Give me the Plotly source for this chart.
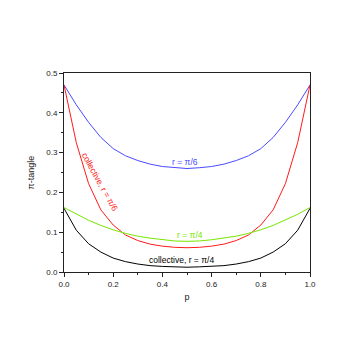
import plotly.graph_objects as go

p = [i / 20 for i in range(21)]

half_blue = [0.470, 0.420, 0.376, 0.338, 0.310, 0.292, 0.280, 0.271, 0.265, 0.262, 0.260]
half_red = [0.470, 0.325, 0.222, 0.156, 0.118, 0.093, 0.079, 0.070, 0.065, 0.062, 0.061]
half_green = [0.162, 0.145, 0.130, 0.117, 0.106, 0.097, 0.090, 0.085, 0.081, 0.078, 0.077]
half_black = [0.160, 0.105, 0.071, 0.050, 0.035, 0.026, 0.020, 0.016, 0.014, 0.013, 0.012]


def mirror(half):
    return half + half[-2::-1]


blue = mirror(half_blue)
red = mirror(half_red)
green = mirror(half_green)
black = mirror(half_black)

FONT = "Liberation Sans, Arial, sans-serif"

fig = go.Figure()
for ys, col in [(blue, "#4a4aff"), (red, "#ff1a1a"), (green, "#77e600"), (black, "#000000")]:
    fig.add_trace(go.Scatter(x=p, y=ys, mode="lines", line=dict(color=col, width=1),
                             showlegend=False, hoverinfo="skip"))

labels = [
    (0.493, 0.277, "r = π/6", "#4a4aff", 0),
    (0.146, 0.226, "collective, r = π/6", "#ff1a1a", 61),
    (0.513, 0.093, "r = π/4", "#77e600", 0),
    (0.479, 0.030, "collective, r = π/4", "#000000", 0),
]
for x, y, txt, col, ang in labels:
    fig.add_annotation(x=x, y=y, text=txt, showarrow=False, textangle=ang,
                       font=dict(family=FONT, size=8.5, color=col))

axis_common = dict(
    showline=True, linecolor="#222", linewidth=1, mirror=True,
    ticks="outside", ticklen=4, tickcolor="#222", tickwidth=1,
    showgrid=False, zeroline=False,
    tickfont=dict(family=FONT, size=8, color="#222"),
    title_font=dict(family=FONT, size=9, color="#222"),
)
fig.update_xaxes(range=[0, 1], dtick=0.2, tickformat=".1f", title_text="p",
                 title_standoff=6,
                 minor=dict(dtick=0.1, ticks="outside", ticklen=2, tickcolor="#222"),
                 **axis_common)
fig.update_yaxes(range=[0, 0.5], dtick=0.1, tickformat=".1f", title_text="π-tangle",
                 title_standoff=10,
                 minor=dict(dtick=0.05, ticks="outside", ticklen=2, tickcolor="#222"),
                 **axis_common)

# the page adds an 8px body margin, so the plot box is shifted back by that much
fig.update_layout(
    width=360, height=360,
    margin=dict(l=56, r=58, t=65, b=96),
    paper_bgcolor="white", plot_bgcolor="white",
)

fig.write_html("out.html")
